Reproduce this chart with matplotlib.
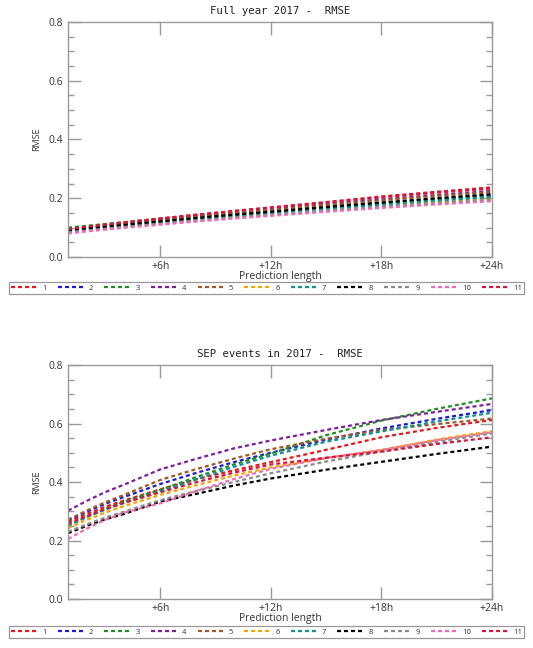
import matplotlib.pyplot as plt
from matplotlib.ticker import MultipleLocator, FormatStrFormatter

hours = [1, 2, 3, 4, 6, 8, 10, 12, 15, 18, 21, 24]
labels = ["1", "2", "3", "4", "5", "6", "7", "8", "9", "10", "11"]
colors = ["#e8161b", "#1a1adc", "#1f8f1f", "#7d1f9a", "#a0582a", "#f5a500",
          "#14908f", "#000000", "#8c8c8c", "#f06ab4", "#d8143a"]

# full year 2017, one list per model
full_1 = [0.097, 0.104, 0.111, 0.118, 0.131, 0.144, 0.156, 0.167, 0.185, 0.203, 0.219, 0.233]
full_2 = [0.093, 0.099, 0.105, 0.111, 0.123, 0.134, 0.145, 0.155, 0.170, 0.184, 0.198, 0.211]
full_3 = [0.100, 0.106, 0.112, 0.118, 0.130, 0.140, 0.150, 0.159, 0.173, 0.185, 0.196, 0.206]
full_4 = [0.093, 0.100, 0.107, 0.114, 0.127, 0.139, 0.151, 0.162, 0.179, 0.196, 0.211, 0.225]
full_5 = [0.092, 0.099, 0.106, 0.113, 0.126, 0.138, 0.150, 0.160, 0.177, 0.193, 0.208, 0.221]
full_6 = [0.086, 0.092, 0.098, 0.104, 0.116, 0.127, 0.137, 0.147, 0.161, 0.174, 0.187, 0.198]
full_7 = [0.089, 0.095, 0.101, 0.107, 0.119, 0.130, 0.140, 0.150, 0.164, 0.178, 0.192, 0.204]
full_8 = [0.090, 0.097, 0.103, 0.109, 0.121, 0.133, 0.144, 0.154, 0.170, 0.185, 0.200, 0.214]
full_9 = [0.084, 0.090, 0.096, 0.102, 0.113, 0.124, 0.134, 0.144, 0.158, 0.171, 0.183, 0.195]
full_10 = [0.080, 0.087, 0.093, 0.099, 0.110, 0.121, 0.131, 0.140, 0.154, 0.167, 0.179, 0.190]
full_11 = [0.095, 0.103, 0.110, 0.117, 0.131, 0.144, 0.157, 0.169, 0.187, 0.206, 0.222, 0.237]

# SEP events 2017
sep_1 = [0.264, 0.290, 0.315, 0.336, 0.375, 0.410, 0.440, 0.468, 0.510, 0.553, 0.585, 0.612]
sep_2 = [0.270, 0.298, 0.325, 0.348, 0.393, 0.432, 0.468, 0.500, 0.545, 0.583, 0.616, 0.646]
sep_3 = [0.250, 0.280, 0.308, 0.332, 0.373, 0.418, 0.460, 0.497, 0.560, 0.610, 0.650, 0.686]
sep_4 = [0.302, 0.335, 0.365, 0.390, 0.443, 0.480, 0.515, 0.542, 0.578, 0.612, 0.640, 0.667]
sep_5 = [0.271, 0.302, 0.330, 0.355, 0.407, 0.445, 0.480, 0.512, 0.548, 0.578, 0.598, 0.617]
sep_6 = [0.242, 0.270, 0.295, 0.317, 0.356, 0.390, 0.422, 0.450, 0.482, 0.509, 0.545, 0.574]
sep_7 = [0.252, 0.280, 0.305, 0.328, 0.368, 0.410, 0.452, 0.490, 0.538, 0.573, 0.607, 0.637]
sep_8 = [0.225, 0.250, 0.272, 0.290, 0.333, 0.360, 0.388, 0.412, 0.442, 0.469, 0.496, 0.521]
sep_9 = [0.230, 0.255, 0.278, 0.298, 0.338, 0.370, 0.400, 0.430, 0.470, 0.504, 0.537, 0.566]
sep_10 = [0.205, 0.240, 0.270, 0.295, 0.327, 0.370, 0.410, 0.445, 0.482, 0.510, 0.543, 0.570]
sep_11 = [0.258, 0.283, 0.307, 0.328, 0.365, 0.400, 0.432, 0.460, 0.483, 0.504, 0.530, 0.553]

full_year = [full_1, full_2, full_3, full_4, full_5, full_6, full_7, full_8, full_9, full_10, full_11]
sep_events = [sep_1, sep_2, sep_3, sep_4, sep_5, sep_6, sep_7, sep_8, sep_9, sep_10, sep_11]

xtick_pos = [6, 12, 18, 24]
xtick_lab = ["+6h", "+12h", "+18h", "+24h"]

GREY = "#9a9a9a"
TXT = "#333333"
plt.rcParams["font.family"] = ["Open Sans", "DejaVu Sans"]


def draw(ax, series, title):
    for vals, col, lab in zip(series, colors, labels):
        ax.plot(hours, vals, color=col, linewidth=1.6,
                linestyle=(0, (1.8, 1.35)), label=lab)
    ax.set_xlim(1, 24)
    ax.set_ylim(0, 0.8)
    ax.set_xticks(xtick_pos)
    ax.set_xticklabels(xtick_lab)
    ax.yaxis.set_major_locator(MultipleLocator(0.2))
    ax.yaxis.set_minor_locator(MultipleLocator(0.05))
    ax.yaxis.set_major_formatter(FormatStrFormatter("%.1f"))
    ax.tick_params(which="both", direction="in", top=True, right=True,
                   color=GREY, labelcolor=TXT, labelsize=7.5, width=1)
    ax.tick_params(which="major", length=9)
    ax.tick_params(which="minor", length=4.5)
    ax.tick_params(axis="x", pad=3)
    for s in ax.spines.values():
        s.set_color(GREY)
        s.set_linewidth(1)
    ax.set_title(title, family="DejaVu Sans Mono", fontsize=7.7, color="#222222", pad=6)
    ax.set_xlabel("Prediction length", fontsize=7.5, color=TXT, labelpad=-1)
    ax.set_ylabel("RMSE", fontsize=6.5, color=TXT, labelpad=5)


fig = plt.figure(figsize=(5.33, 6.48), dpi=100)
ax1 = fig.add_axes([0.1276, 0.6034, 0.7955, 0.3627])
ax2 = fig.add_axes([0.1276, 0.0756, 0.7955, 0.3611])

draw(ax1, full_year, "Full year 2017 -  RMSE")
draw(ax2, sep_events, "SEP events in 2017 -  RMSE")

for ax, y0 in [(ax1, 0.5414), (ax2, 0.0111)]:
    h, l = ax.get_legend_handles_labels()
    leg = fig.legend(h, l, loc="center", ncol=11, mode="expand",
                     bbox_to_anchor=(0.016, y0, 0.968, 0.0275),
                     fontsize=5.5, handlelength=3.5, handletextpad=0.6,
                     columnspacing=1.0, borderpad=0.3, borderaxespad=0,
                     fancybox=False, framealpha=1)
    leg.get_frame().set_edgecolor(GREY)
    leg.get_frame().set_linewidth(0.9)
    for t in leg.get_texts():
        t.set_color(TXT)

fig.savefig("out.png", dpi=100)
